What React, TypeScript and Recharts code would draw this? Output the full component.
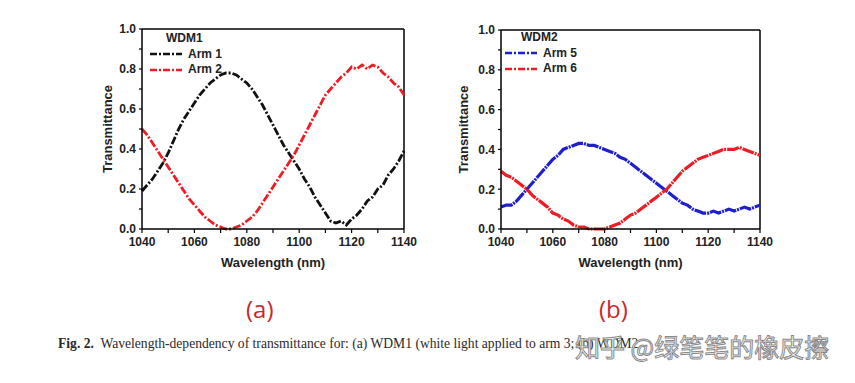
import React from 'react';
import { LineChart, Line, XAxis, YAxis, ReferenceLine, Legend, Label } from 'recharts';

const wavelength = [
  1040, 1042, 1044, 1046, 1048, 1050, 1052, 1054, 1056, 1058,
  1060, 1062, 1064, 1066, 1068, 1070, 1072, 1074, 1076, 1078,
  1080, 1082, 1084, 1086, 1088, 1090, 1092, 1094, 1096, 1098,
  1100, 1102, 1104, 1106, 1108, 1110, 1112, 1114, 1116, 1118,
  1120, 1122, 1124, 1126, 1128, 1130, 1132, 1134, 1136, 1138, 1140,
];

const arm1 = [
  0.19, 0.22, 0.25, 0.29, 0.33, 0.38, 0.44, 0.50, 0.55, 0.59,
  0.63, 0.67, 0.70, 0.73, 0.75, 0.77, 0.78, 0.78, 0.77, 0.75,
  0.73, 0.70, 0.66, 0.62, 0.57, 0.52, 0.47, 0.42, 0.38, 0.34,
  0.30, 0.25, 0.21, 0.16, 0.12, 0.08, 0.04, 0.03, 0.04, 0.02,
  0.05, 0.07, 0.10, 0.14, 0.16, 0.20, 0.22, 0.27, 0.30, 0.34, 0.39,
];

const arm2 = [
  0.50, 0.47, 0.43, 0.39, 0.35, 0.31, 0.27, 0.23, 0.19, 0.15,
  0.12, 0.09, 0.06, 0.04, 0.02, 0.01, 0.00, 0.00, 0.01, 0.02,
  0.04, 0.06, 0.09, 0.13, 0.17, 0.21, 0.25, 0.29, 0.33, 0.37,
  0.42, 0.47, 0.52, 0.57, 0.62, 0.67, 0.70, 0.73, 0.76, 0.78,
  0.81, 0.80, 0.82, 0.80, 0.82, 0.81, 0.78, 0.76, 0.73, 0.71, 0.67,
];

const arm5 = [
  0.11, 0.12, 0.12, 0.14, 0.17, 0.20, 0.23, 0.26, 0.29, 0.32,
  0.35, 0.37, 0.40, 0.41, 0.42, 0.43, 0.43, 0.42, 0.42, 0.41,
  0.40, 0.39, 0.38, 0.36, 0.35, 0.33, 0.31, 0.29, 0.27, 0.25,
  0.23, 0.21, 0.19, 0.17, 0.15, 0.13, 0.12, 0.10, 0.09, 0.08,
  0.08, 0.09, 0.08, 0.09, 0.10, 0.09, 0.10, 0.11, 0.10, 0.11, 0.12,
];

const arm6 = [
  0.29, 0.27, 0.26, 0.24, 0.22, 0.20, 0.17, 0.15, 0.13, 0.11,
  0.08, 0.07, 0.05, 0.04, 0.02, 0.01, 0.01, 0.00, 0.00, 0.00,
  0.00, 0.01, 0.02, 0.03, 0.05, 0.07, 0.08, 0.10, 0.12, 0.14,
  0.16, 0.18, 0.20, 0.23, 0.26, 0.29, 0.31, 0.33, 0.35, 0.36,
  0.37, 0.38, 0.39, 0.40, 0.40, 0.40, 0.41, 0.40, 0.39, 0.38, 0.37,
];

const xTicks = [1040, 1050, 1060, 1070, 1080, 1090, 1100, 1110, 1120, 1130, 1140];
const yTicks = [0, 0.1, 0.2, 0.3, 0.4, 0.5, 0.6, 0.7, 0.8, 0.9, 1.0];

const FONT = '"Liberation Sans", Arial, sans-serif';
const RED = '#ee1c24';

const wdm1 = wavelength.map((w, i) => ({ w, a: arm1[i], b: arm2[i] }));
const wdm2 = wavelength.map((w, i) => ({ w, a: arm5[i], b: arm6[i] }));

const XTick = (props: any) => {
  const { x, y, payload } = props;
  if (payload.value % 20 !== 0) return null;
  return (
    <text x={x} y={y} dy="0.71em" textAnchor="middle" fontFamily={FONT} fontWeight="bold" fontSize={12} fill="#222">
      {payload.value}
    </text>
  );
};

const YTick = (props: any) => {
  const { x, y, payload } = props;
  if (Math.round(payload.value * 10) % 2 !== 0) return null;
  return (
    <text x={x} y={y} dy="0.36em" textAnchor="end" fontFamily={FONT} fontWeight="bold" fontSize={12} fill="#222">
      {payload.value.toFixed(1)}
    </text>
  );
};

type PanelProps = {
  data: any[];
  title: string;
  names: string[];
  colors: string[];
  dash: string;
  width: number;
  margin: { top: number; right: number; left: number; bottom: number };
  yLabelX: number;
  legendLeft: number;
  legendTop: number;
};

const Panel = ({ data, title, names, colors, dash, width, margin, yLabelX, legendLeft, legendTop }: PanelProps) => {
  const renderLegend = () => (
    <div style={{ fontFamily: FONT, fontSize: 12, fontWeight: 'bold', color: '#222', lineHeight: '15.5px' }}>
      <div style={{ paddingLeft: 16 }}>{title}</div>
      {names.map((n, i) => (
        <div key={n} style={{ display: 'flex', alignItems: 'center' }}>
          <svg width={32} height={8} style={{ marginRight: 6 }}>
            <line x1={0} x2={32} y1={4} y2={4} stroke={colors[i]} strokeWidth={2.5} strokeDasharray="7 2 2 2" />
          </svg>
          <span>{n}</span>
        </div>
      ))}
    </div>
  );

  return (
    <LineChart width={380} height={280} data={data} margin={margin}>
      <XAxis
        dataKey="w"
        type="number"
        domain={[1040, 1140]}
        ticks={xTicks}
        interval={0}
        tick={XTick}
        tickSize={4}
        tickMargin={4}
        height={45}
        axisLine={{ stroke: '#000', strokeWidth: 1.5 }}
        tickLine={{ stroke: '#000', strokeWidth: 1.2 }}
      >
        <Label
          content={({ viewBox }: any) => (
            <text x={viewBox.x + viewBox.width / 2} y={viewBox.y + 33} textAnchor="middle" dominantBaseline="central"
              fontFamily={FONT} fontWeight="bold" fontSize={13} fill="#222">
              Wavelength (nm)
            </text>
          )}
        />
      </XAxis>
      <YAxis
        type="number"
        domain={[0, 1]}
        ticks={yTicks}
        interval={0}
        tick={YTick}
        tickSize={3}
        tickMargin={3}
        width={50}
        axisLine={{ stroke: '#000', strokeWidth: 1.5 }}
        tickLine={{ stroke: '#000', strokeWidth: 1.2 }}
      >
        <Label
          content={({ viewBox }: any) => {
            const cx = viewBox.x + yLabelX;
            const cy = viewBox.y + viewBox.height / 2;
            return (
              <text x={cx} y={cy} transform={`rotate(-90, ${cx}, ${cy})`} textAnchor="middle" dominantBaseline="central"
                fontFamily={FONT} fontWeight="bold" fontSize={13} fill="#222">
                Transmittance
              </text>
            );
          }}
        />
      </YAxis>
      <ReferenceLine y={1} stroke="#000" strokeWidth={1.5} />
      <ReferenceLine x={1140} stroke="#000" strokeWidth={1.5} />
      <Legend
        content={renderLegend}
        layout="horizontal"
        verticalAlign="middle"
        align="center"
        wrapperStyle={{ left: legendLeft, top: legendTop, width: 120 }}
      />
      <Line dataKey="a" name={names[0]} stroke={colors[0]} strokeWidth={width} strokeDasharray={dash} dot={false} isAnimationActive={false} />
      <Line dataKey="b" name={names[1]} stroke={colors[1]} strokeWidth={width} strokeDasharray={dash} dot={false} isAnimationActive={false} />
    </LineChart>
  );
};

const App = () => {
  return (
    <div style={{ position: 'absolute', left: 0, top: 0, width: 855, height: 383, background: '#fff', overflow: 'hidden' }}>
      <div style={{ position: 'absolute', left: 40, top: 0 }}>
        <Panel
          data={wdm1}
          title="WDM1"
          names={['Arm 1', 'Arm 2']}
          colors={['#111', RED]}
          dash="8 2 2 2"
          width={2.8}
          margin={{ top: 29, right: 16, left: 52, bottom: 6 }}
          yLabelX={15}
          legendLeft={110}
          legendTop={31}
        />
      </div>
      <div style={{ position: 'absolute', left: 400, top: 0 }}>
        <Panel
          data={wdm2}
          title="WDM2"
          names={['Arm 5', 'Arm 6']}
          colors={['#1f1fcf', RED]}
          dash="12 1 2 1"
          width={3.2}
          margin={{ top: 30, right: 20, left: 51, bottom: 6 }}
          yLabelX={12}
          legendLeft={105}
          legendTop={30}
        />
      </div>
      <div style={{ position: 'absolute', left: 246, top: 292, fontFamily: '"Open Sans", sans-serif', fontSize: 24, color: '#c8282e' }}>(a)</div>
      <div style={{ position: 'absolute', left: 599, top: 292, fontFamily: '"Open Sans", sans-serif', fontSize: 24, color: '#c8282e' }}>(b)</div>
      <div style={{ position: 'absolute', left: 58, top: 336, fontFamily: '"Liberation Serif", serif', fontSize: 13.6, color: '#2a2a2a', whiteSpace: 'nowrap' }}>
        <b>Fig. 2.</b>&nbsp; Wavelength-dependency of transmittance for: (a) WDM1 (white light applied to arm 3; (b) WDM2
      </div>
      <div style={{ position: 'absolute', left: 575, top: 328, fontFamily: '"Noto Sans CJK SC", sans-serif', fontSize: 25, color: '#fff', WebkitTextStroke: '1px #8a8a8a', whiteSpace: 'nowrap' }}>
        知乎 @绿笔笔的橡皮擦
      </div>
    </div>
  );
};

export default App;
